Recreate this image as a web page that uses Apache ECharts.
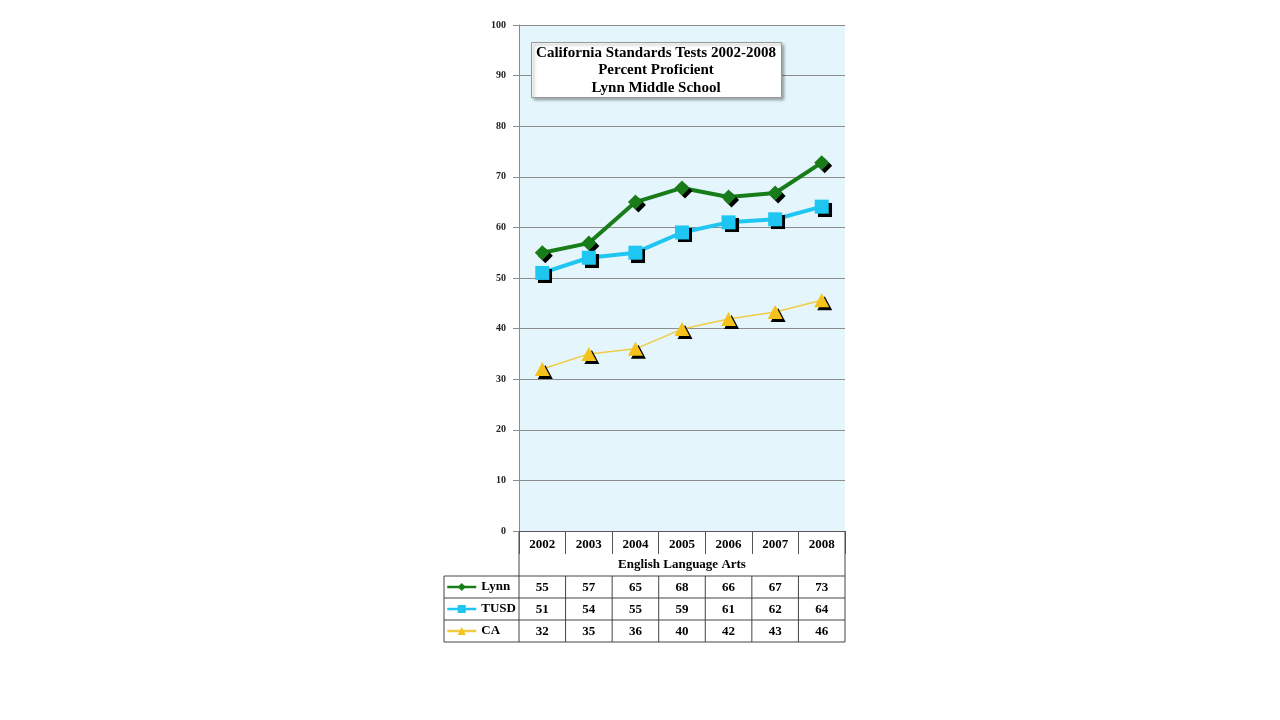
<!DOCTYPE html>
<html>
<head>
<meta charset="utf-8">
<script src="https://cdn.jsdelivr.net/npm/echarts@6/dist/echarts.min.js"></script>
<style>
  html, body { margin: 0; padding: 0; background: #fff; }
  #main { width: 1280px; height: 720px; }
</style>
</head>
<body>
<div id="main"></div>
<script>
// 数据
var years = ['2002', '2003', '2004', '2005', '2006', '2007', '2008'];
var lynn = [55, 56.9, 65, 67.8, 66, 66.8, 72.8];
var tusd = [51, 54, 55, 59, 61, 61.6, 64.1];
var ca = [32, 35, 36, 39.9, 41.9, 43.3, 45.6];
var titleLines = ['California Standards Tests 2002-2008', 'Percent Proficient', 'Lynn Middle School'];
var subject = 'English Language Arts';

var FONT = '"Liberation Serif", "Times New Roman", serif';
var G = { left: 519, top: 25, width: 326, height: 506 };
var ROW_YEAR = 23, ROW_SUB = 22, ROW = 22;
var TABLE_LEFT = 444;

var markShadow = { shadowColor: '#000', shadowBlur: 0.5, shadowOffsetX: 3, shadowOffsetY: 3 };

var myChart = echarts.init(document.getElementById('main'));

myChart.setOption({
  animation: false,
  backgroundColor: '#fff',
  grid: {
    left: G.left, top: G.top, width: G.width, height: G.height,
    show: true, backgroundColor: '#e4f6fc', borderWidth: 0
  },
  legend: {
    orient: 'vertical',
    left: TABLE_LEFT + 2,
    top: G.top + G.height + ROW_YEAR + ROW_SUB + 4,
    padding: 0,
    itemWidth: 29,
    itemHeight: 10,
    itemGap: 8,
    data: ['Lynn', 'TUSD', 'CA'],
    textStyle: { fontFamily: FONT, fontWeight: 'bold', fontSize: 13, color: '#000', lineHeight: 14 },
    itemStyle: { shadowBlur: 0, shadowOffsetX: 0, shadowOffsetY: 0, shadowColor: 'rgba(0,0,0,0)' },
    lineStyle: { width: 2.5 }
  },
  xAxis: {
    type: 'category',
    data: years,
    axisLine: { lineStyle: { color: '#555', width: 1 } },
    axisTick: { show: true, length: ROW_YEAR, lineStyle: { color: '#555' } },
    axisLabel: { fontFamily: FONT, fontWeight: 'bold', fontSize: 13, color: '#000', margin: 7 }
  },
  yAxis: {
    type: 'value',
    min: 0, max: 100, interval: 10,
    axisLine: { show: true, lineStyle: { color: '#8a8a8a' } },
    axisTick: { show: true, length: 6, lineStyle: { color: '#8a8a8a' } },
    axisLabel: { fontFamily: FONT, fontWeight: 'bold', fontSize: 10, color: '#222', margin: 13 },
    splitLine: { lineStyle: { color: '#8c8c8c', width: 1 } }
  },
  series: [
    {
      name: 'Lynn', type: 'line', data: lynn,
      symbol: 'diamond', symbolSize: 15,
      lineStyle: { color: '#187c18', width: 4 },
      itemStyle: Object.assign({ color: '#187c18' }, markShadow)
    },
    {
      name: 'TUSD', type: 'line', data: tusd,
      symbol: 'rect', symbolSize: 14,
      lineStyle: { color: '#1fc6f2', width: 4 },
      itemStyle: Object.assign({ color: '#1fc6f2' }, markShadow)
    },
    {
      name: 'CA', type: 'line', data: ca,
      symbol: 'triangle', symbolSize: [15, 14],
      lineStyle: { color: '#f0cc45', width: 1.5 },
      itemStyle: Object.assign({ color: '#f4c21a' }, markShadow)
    }
  ]
});

// 标题框 + 数据表
function drawExtras() {
  var bottom = G.top + G.height;
  var right = G.left + G.width;
  var subTop = bottom + ROW_YEAR;
  var rowsTop = subTop + ROW_SUB;
  var rows = [lynn, tusd, ca];
  var tableBottom = rowsTop + ROW * rows.length;
  var elements = [];
  var lineStyle = { stroke: '#444', lineWidth: 1 };

  // 标题
  elements.push({
    type: 'rect', left: 531, top: 42, z: 10,
    shape: { width: 250, height: 55 },
    style: { fill: '#fff', stroke: '#999', lineWidth: 1, shadowColor: 'rgba(0,0,0,0.35)', shadowBlur: 3, shadowOffsetX: 2, shadowOffsetY: 2 }
  });
  elements.push({
    type: 'text', x: 656, y: 44, z: 11,
    style: {
      text: titleLines.join('\n'), align: 'center', verticalAlign: 'top',
      font: 'bold 15px ' + FONT, fill: '#000', lineHeight: 17.5
    }
  });

  // 表格线
  function hline(x1, x2, y) { elements.push({ type: 'line', shape: { x1: x1, y1: y, x2: x2, y2: y }, style: lineStyle }); }
  function vline(x, y1, y2) { elements.push({ type: 'line', shape: { x1: x, y1: y1, x2: x, y2: y2 }, style: lineStyle }); }

  vline(G.left, bottom, tableBottom);
  vline(right, bottom, tableBottom);
  vline(TABLE_LEFT, rowsTop, tableBottom);
  for (var r = 0; r <= rows.length; r++) hline(TABLE_LEFT, right, rowsTop + r * ROW);

  var step = G.width / years.length;
  for (var k = 1; k < years.length; k++) vline(G.left + k * step, rowsTop, tableBottom);

  elements.push({
    type: 'text', x: (G.left + right) / 2, y: subTop + ROW_SUB / 2,
    style: { text: subject, align: 'center', verticalAlign: 'middle', font: 'bold 13px ' + FONT, fill: '#000' }
  });

  rows.forEach(function (vals, ri) {
    vals.forEach(function (v, i) {
      var x = myChart.convertToPixel({ xAxisIndex: 0 }, years[i]);
      elements.push({
        type: 'text', x: x, y: rowsTop + ri * ROW + ROW / 2 + 1,
        style: { text: String(Math.round(v)), align: 'center', verticalAlign: 'middle', font: 'bold 13px ' + FONT, fill: '#000' }
      });
    });
  });

  myChart.setOption({ graphic: { elements: elements } });
}
drawExtras();
</script>
</body>
</html>
